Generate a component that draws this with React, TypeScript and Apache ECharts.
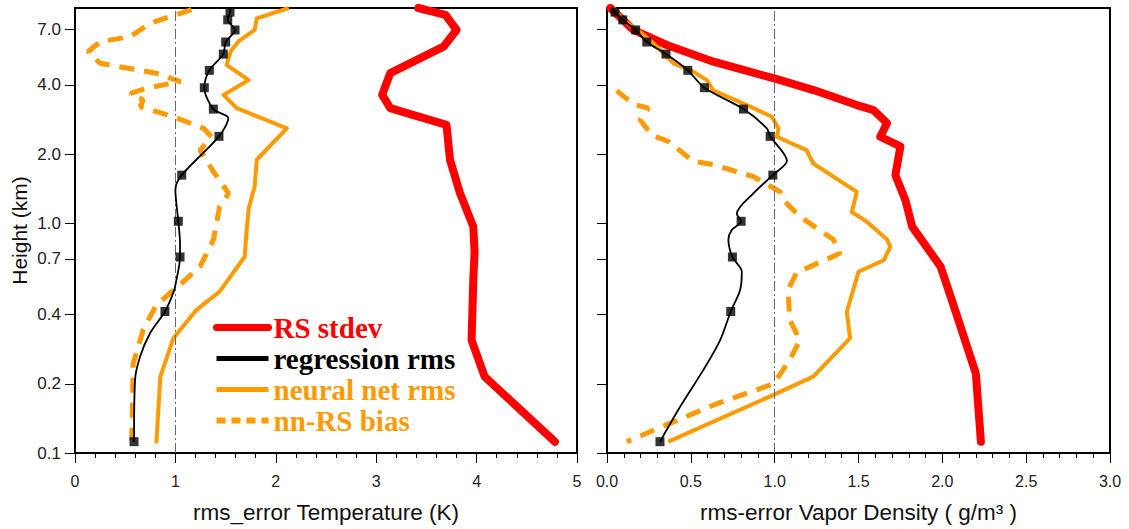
import React, { useEffect, useRef } from "react";
import * as echarts from "echarts";

// ---------- data (x value, height in km) ----------
const heightTicks = [0.1, 0.2, 0.4, 0.7, 1.0, 2.0, 4.0, 7.0];
const heightTickLabels = ["0.1", "0.2", "0.4", "0.7", "1.0", "2.0", "4.0", "7.0"];
const heightMin = 0.1;
const heightMax = 8.65;

const markerHeights = [8.3, 7.68, 6.94, 6.15, 5.45, 4.63, 3.89, 3.14, 2.39, 1.62, 1.02, 0.713, 0.413, 0.112];
const tempRegressionMarkerX = [1.544, 1.521, 1.594, 1.501, 1.477, 1.338, 1.288, 1.378, 1.434, 1.063, 1.029, 1.046, 0.896, 0.588];
const vaporRegressionMarkerX = [0.048, 0.094, 0.171, 0.237, 0.352, 0.482, 0.581, 0.814, 0.973, 0.989, 0.8, 0.748, 0.738, 0.316];

const tempRsStdev: [number, number][] = [
  [3.42, 8.65], [3.69, 8.07], [3.8, 6.94], [3.67, 5.87], [3.37, 5.05], [3.14, 4.5], [3.09, 3.94],
  [3.06, 3.62], [3.14, 3.17], [3.7, 2.68], [3.735, 1.89], [3.835, 1.35], [3.967, 0.967],
  [3.98, 0.75], [3.967, 0.566], [3.95, 0.31], [4.08, 0.215], [4.78, 0.112],
];
const tempRegression: [number, number][] = [
  [1.55, 8.65], [1.544, 8.3], [1.521, 7.68], [1.594, 6.94], [1.501, 6.15], [1.477, 5.45],
  [1.338, 4.63], [1.288, 3.89], [1.378, 3.14], [1.527, 2.87], [1.434, 2.39], [1.063, 1.62],
  [1.0, 1.4], [1.029, 1.02], [1.046, 0.82], [1.046, 0.713], [1.01, 0.566], [0.98, 0.5],
  [0.896, 0.413], [0.747, 0.332], [0.647, 0.262], [0.598, 0.208], [0.588, 0.112],
];
const tempNeuralNet: [number, number][] = [
  [2.13, 8.65], [1.81, 7.8], [1.79, 6.94], [1.63, 6.2], [1.55, 5.6], [1.51, 4.89], [1.73, 4.2],
  [1.48, 3.62], [1.61, 3.17], [2.11, 2.59], [1.81, 1.89], [1.79, 1.45], [1.73, 1.16],
  [1.71, 0.935], [1.69, 0.715], [1.44, 0.504], [1.21, 0.42], [0.98, 0.316], [0.85, 0.215], [0.81, 0.11],
];
const tempBias: [number, number][] = [
  [1.16, 8.5], [0.75, 7.43], [0.55, 6.49], [0.25, 6.17], [0.13, 5.58], [0.25, 4.97], [0.81, 4.5],
  [1.05, 4.14], [0.71, 3.87], [0.55, 3.67], [0.68, 3.44], [0.65, 3.22], [0.98, 2.91], [1.28, 2.59],
  [1.36, 2.38], [1.245, 2.08], [1.39, 1.65], [1.53, 1.35], [1.44, 1.18], [1.38, 0.85],
  [1.245, 0.647], [1.06, 0.548], [0.81, 0.441], [0.68, 0.344], [0.58, 0.246], [0.565, 0.114],
];

const vaporRsStdev: [number, number][] = [
  [0.02, 8.65], [0.157, 6.94], [0.356, 5.97], [0.635, 5.05], [0.993, 4.28], [1.232, 3.8],
  [1.49, 3.27], [1.59, 3.11], [1.67, 2.73], [1.63, 2.38], [1.75, 2.16], [1.72, 1.62], [1.78, 1.26],
  [1.82, 0.967], [1.99, 0.647], [2.05, 0.479], [2.2, 0.222], [2.23, 0.112],
];
const vaporRegression: [number, number][] = [
  [0.03, 8.65], [0.048, 8.3], [0.094, 7.68], [0.171, 6.94], [0.237, 6.15], [0.352, 5.45],
  [0.482, 4.63], [0.581, 3.89], [0.814, 3.14], [0.953, 2.59], [0.973, 2.39], [1.073, 1.87],
  [0.989, 1.62], [0.873, 1.35], [0.774, 1.1], [0.8, 1.02], [0.744, 0.935], [0.724, 0.85],
  [0.748, 0.713], [0.804, 0.615], [0.794, 0.512], [0.738, 0.413], [0.675, 0.31], [0.575, 0.23],
  [0.436, 0.159], [0.316, 0.112],
];
const vaporNeuralNet: [number, number][] = [
  [0.04, 8.65], [0.1, 7.62], [0.19, 6.88], [0.27, 6.14], [0.396, 4.97], [0.515, 4.57], [0.595, 4.2],
  [0.635, 3.78], [0.774, 3.42], [0.854, 3.22], [0.983, 2.91], [1.023, 2.59], [1.013, 2.38],
  [1.19, 2.08], [1.23, 1.82], [1.49, 1.37], [1.46, 1.12], [1.55, 1.016], [1.67, 0.85], [1.69, 0.79],
  [1.65, 0.69], [1.5, 0.615], [1.43, 0.412], [1.45, 0.316], [1.23, 0.215], [0.993, 0.179], [0.366, 0.112],
];
const vaporBias: [number, number][] = [
  [0.058, 3.78], [0.157, 3.3], [0.247, 3.17], [0.197, 2.82], [0.267, 2.42], [0.366, 2.27],
  [0.515, 1.86], [0.635, 1.8], [0.873, 1.596], [1.033, 1.37], [1.053, 1.26], [1.15, 1.07],
  [1.35, 0.85], [1.39, 0.74], [1.13, 0.61], [1.08, 0.512], [1.09, 0.38], [1.15, 0.31],
  [1.09, 0.254], [0.993, 0.2], [0.655, 0.164], [0.327, 0.13], [0.118, 0.112],
];

const legendNames = ["RS stdev", "regression rms", "neural net rms", "nn-RS bias"];

// ---------- styles ----------
const RED = "#ff0000";
const ORANGE = "#ff9a00";
const BLACK = "#000000";
const SANS = "'Liberation Sans', Arial, Helvetica, sans-serif";
const SERIF = "'Liberation Serif', 'Times New Roman', serif";

const lg = (h: number) => Math.log10(h);
const toData = (pts: [number, number][]) => pts.map(([x, h]) => [x, lg(h)]);
const markers = (xs: number[]) => xs.map((x, i) => [x, lg(markerHeights[i])]);

const tickLabel = (v: number) => {
  let best = 0;
  let bd = Infinity;
  heightTicks.forEach((t, i) => {
    const d = Math.abs(lg(t) - v);
    if (d < bd) {
      bd = d;
      best = i;
    }
  });
  return heightTickLabels[best];
};

function buildOption() {
  const tickVals = heightTicks.map(lg);
  const yAxisBase = (gridIndex: number, withLabels: boolean) => ({
    gridIndex,
    type: "value",
    min: lg(heightMin),
    max: lg(heightMax),
    axisLine: { show: true, onZero: false, lineStyle: { color: BLACK, width: 2 } },
    axisTick: { show: true, length: 10, customValues: tickVals, lineStyle: { color: BLACK, width: 1 } },
    axisLabel: {
      show: withLabels,
      customValues: tickVals,
      formatter: (v: number) => tickLabel(v),
      fontSize: 17,
      fontFamily: SANS,
      color: "#222",
      margin: 14,
    },
    splitLine: { show: false },
    name: withLabels ? "Height (km)" : "",
    nameLocation: "middle",
    nameGap: 45,
    nameTextStyle: { fontSize: 21, fontFamily: SANS, color: "#111" },
  });
  const xAxisBase = (gridIndex: number, max: number, interval: number, name: string, fmt: (v: number) => string) => ({
    gridIndex,
    type: "value",
    min: 0,
    max,
    interval,
    axisLine: { show: true, onZero: false, lineStyle: { color: BLACK, width: 2 } },
    axisTick: { show: true, length: 10, lineStyle: { color: BLACK, width: 1 } },
    minorTick: { show: true, splitNumber: 5, length: 5, lineStyle: { color: BLACK, width: 1 } },
    axisLabel: { fontSize: 16, fontFamily: SANS, color: "#222", margin: 20, formatter: fmt },
    splitLine: { show: false },
    minorSplitLine: { show: false },
    name,
    nameLocation: "middle",
    nameGap: 48,
    nameTextStyle: { fontSize: 22.5, fontFamily: SANS, color: "#111" },
  });

  const refLine = {
    silent: true,
    symbol: "none",
    label: { show: false },
    lineStyle: { color: "#666", width: 1, type: [10, 3, 2, 3] },
    data: [{ xAxis: 1 }],
  };

  const panelSeries = (
    idx: number,
    rs: [number, number][],
    reg: [number, number][],
    nn: [number, number][],
    bias: [number, number][],
    mk: number[]
  ) => [
    {
      name: "RS stdev",
      type: "line",
      xAxisIndex: idx,
      yAxisIndex: idx,
      data: toData(rs),
      symbol: "none",
      lineStyle: { color: RED, width: 8, cap: "round", join: "round" },
      itemStyle: { color: RED },
      z: 2,
    },
    {
      name: "nn-RS bias",
      type: "line",
      xAxisIndex: idx,
      yAxisIndex: idx,
      data: toData(bias),
      symbol: "none",
      lineStyle: { color: ORANGE, width: 5, type: [15, 10], cap: "butt" },
      itemStyle: { color: ORANGE },
      z: 3,
    },
    {
      name: "neural net rms",
      type: "line",
      xAxisIndex: idx,
      yAxisIndex: idx,
      data: toData(nn),
      symbol: "none",
      lineStyle: { color: ORANGE, width: 4, join: "round" },
      itemStyle: { color: ORANGE },
      z: 4,
    },
    {
      name: "regression rms",
      type: "line",
      xAxisIndex: idx,
      yAxisIndex: idx,
      data: toData(reg),
      symbol: "none",
      smooth: 0.3,
      lineStyle: { color: BLACK, width: 1.8 },
      itemStyle: { color: BLACK },
      z: 5,
    },
    {
      name: "regression levels",
      type: "scatter",
      xAxisIndex: idx,
      yAxisIndex: idx,
      data: markers(mk),
      symbol: "rect",
      symbolSize: 9,
      itemStyle: { color: BLACK },
      z: 6,
      markLine: refLine,
    },
  ];

  const hiddenSymbol = { opacity: 0, color: "transparent", borderWidth: 0 };

  return {
    animation: false,
    backgroundColor: "#ffffff",
    grid: [
      { left: 75, top: 8, width: 502, height: 445, show: true, borderColor: BLACK, borderWidth: 2, backgroundColor: "transparent" },
      { left: 607, top: 8, width: 503, height: 445, show: true, borderColor: BLACK, borderWidth: 2, backgroundColor: "transparent" },
    ],
    xAxis: [
      xAxisBase(0, 5, 1, "rms_error Temperature (K)", (v: number) => String(v)),
      xAxisBase(1, 3, 0.5, "rms-error Vapor Density ( g/m³ )", (v: number) => v.toFixed(1)),
    ],
    yAxis: [yAxisBase(0, true), yAxisBase(1, false)],
    legend: {
      orient: "vertical",
      left: 208,
      top: 308,
      itemWidth: 52,
      itemHeight: 14,
      itemGap: 2,
      selectedMode: false,
      textStyle: { fontFamily: SERIF, fontWeight: "bold", fontSize: 29 },
      data: [
        { name: legendNames[0], textStyle: { color: RED }, itemStyle: hiddenSymbol, lineStyle: { width: 7, color: RED } },
        { name: legendNames[1], textStyle: { color: BLACK }, itemStyle: hiddenSymbol, lineStyle: { width: 5, color: BLACK } },
        { name: legendNames[2], textStyle: { color: ORANGE }, itemStyle: hiddenSymbol, lineStyle: { width: 5, color: ORANGE } },
        { name: legendNames[3], textStyle: { color: ORANGE }, itemStyle: hiddenSymbol, lineStyle: { width: 6, color: ORANGE, type: [9, 6] } },
      ],
    },
    series: [
      ...panelSeries(0, tempRsStdev, tempRegression, tempNeuralNet, tempBias, tempRegressionMarkerX),
      ...panelSeries(1, vaporRsStdev, vaporRegression, vaporNeuralNet, vaporBias, vaporRegressionMarkerX),
    ],
  };
}

export default function App() {
  const ref = useRef<HTMLDivElement>(null);
  useEffect(() => {
    document.body.style.margin = "0";
    if (!ref.current) return;
    const chart = echarts.init(ref.current, undefined, { renderer: "svg" });
    chart.setOption(buildOption() as any);
    return () => chart.dispose();
  }, []);
  return <div ref={ref} style={{ width: 1129, height: 529 }} />;
}
